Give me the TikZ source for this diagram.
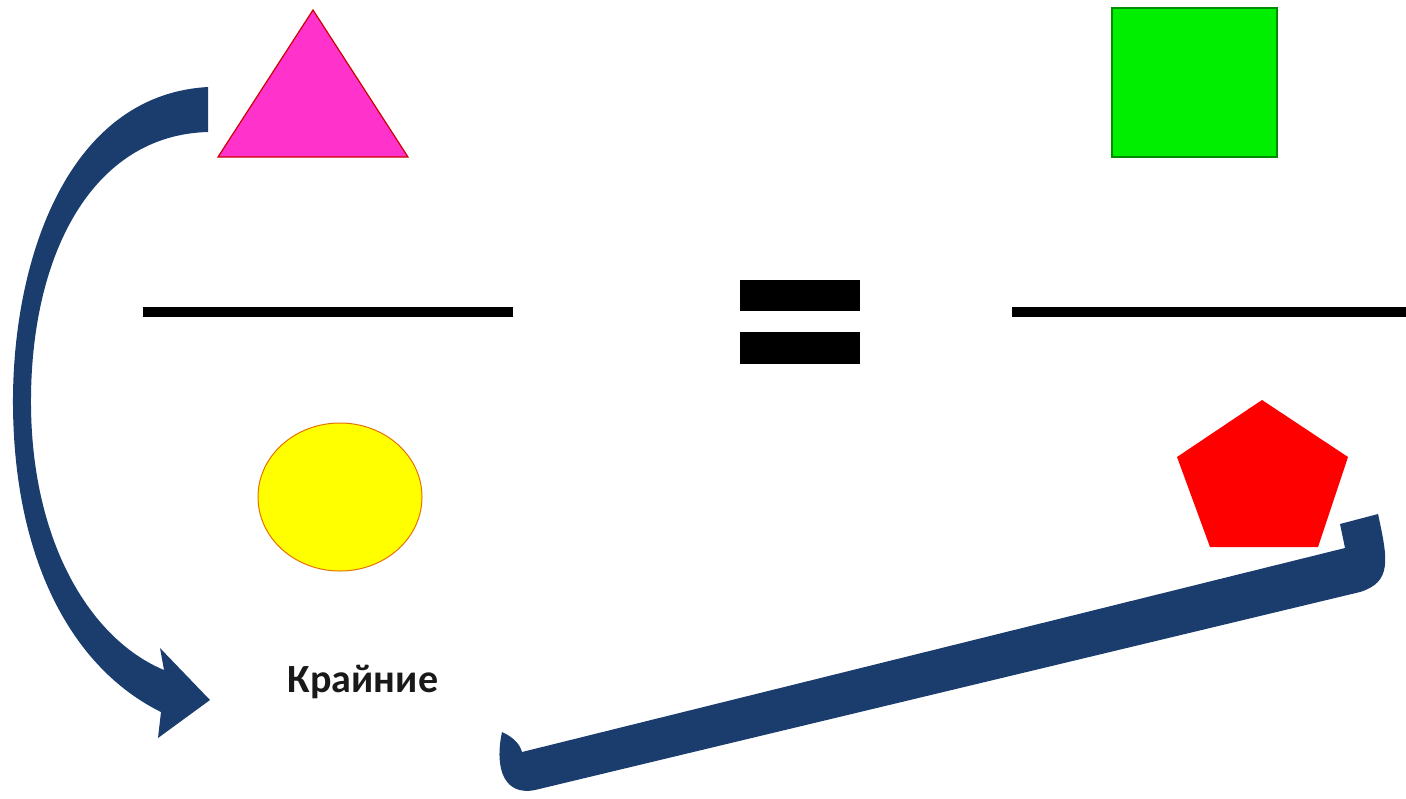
\documentclass[tikz,border=0pt]{standalone}
\usepackage{fontspec}
\setsansfont{Carlito}
\definecolor{shapePink}{HTML}{FF33CC}
\definecolor{shapeGreen}{HTML}{00EE00}
\definecolor{shapeYellow}{HTML}{FFFF00}
\definecolor{shapeRed}{HTML}{FF0000}
\definecolor{arrowNavy}{HTML}{1B3D6D}
\tikzset{
  fracline/.style={line width=5pt},
  bigarrow/.style={fill=arrowNavy, draw=none},
}

\begin{document}
\begin{tikzpicture}[x=0.5pt, y=-0.5pt, every node/.style={font=\sffamily\bfseries\fontsize{20}{24}\selectfont}]
            \useasboundingbox (0,0) rectangle (1406,798);
            % top and bottom figures
            \draw[fill=shapePink, draw=red!80!black, line width=0.6pt] (313,10) -- (408,157) -- (218,157) -- cycle;
            \draw[fill=shapeGreen, draw=green!55!black, line width=0.6pt] (1112,8) rectangle (1277,157);
            \draw[fill=shapeYellow, draw=orange!90!black, line width=0.5pt] (340,497) ellipse (82 and 74);
            \fill[shapeRed] (1262,400) -- (1348,457) -- (1318,547) -- (1210,547) -- (1177,457) -- cycle;
            % fraction bars and equals sign
            \foreach \xa/\xb in {143/513,1012/1406}{
                \draw[fracline] (\xa,312) -- (\xb,312);
            }
            \foreach \ya/\yb in {280/311,332/364}{
                \fill (740,\ya) rectangle (860,\yb);
            }
            \node[text=black!90] (label) at (363,682) {Крайние};
            % curved arrow
            \path[bigarrow] (208,87) .. controls (65,95) and (12,265) .. (13,405)
                .. controls (14,560) and (72,668) .. (161,712)
                -- (158,738) -- (210,700) -- (160,648) -- (164,670)
                .. controls (92,640) and (32,545) .. (31,405)
                .. controls (30,255) and (92,135) .. (208,132) -- cycle;
            % bracket arrow
            \path[bigarrow] (1340,524) -- (1378,514) .. controls (1388,560) and (1392,582) .. (1360,592)
                -- (535,790) .. controls (505,796) and (494,770) .. (502,732)
                .. controls (515,738) and (520,745) .. (522,752) -- (1345,548) -- cycle;
        \end{tikzpicture}
\end{document}
